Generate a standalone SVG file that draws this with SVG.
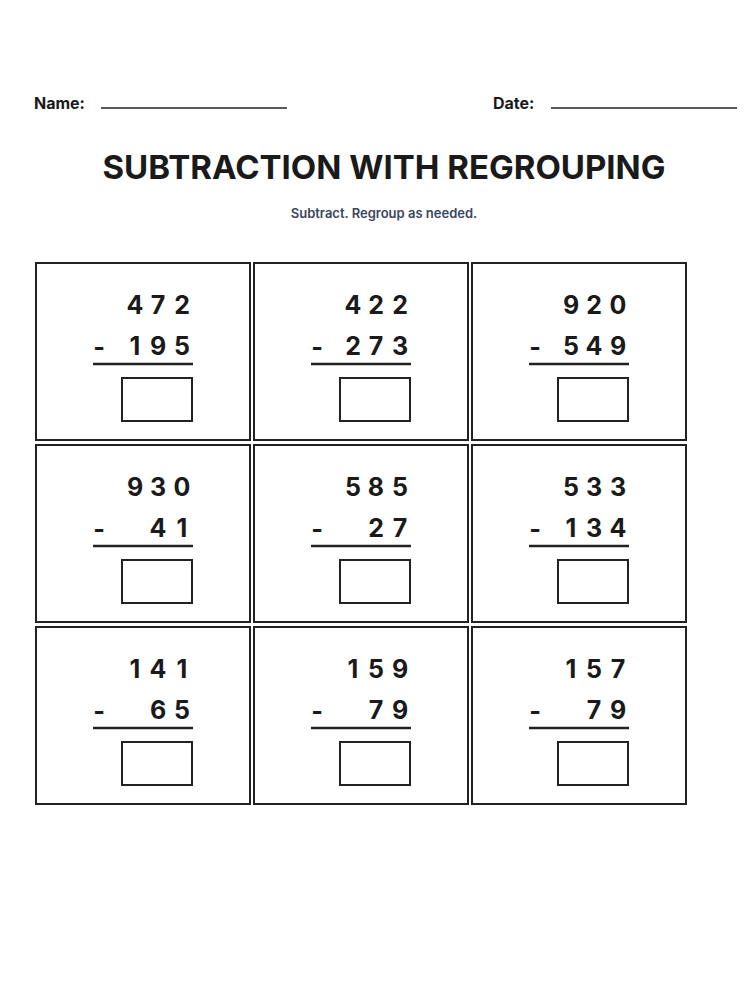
<svg xmlns="http://www.w3.org/2000/svg" width="750" height="1000" viewBox="0 0 750 1000">
<style>
.t{font-family:Inter,"Liberation Sans",sans-serif;font-weight:700;fill:#1a1a1a}
.d{font-family:Inter,"Liberation Sans",sans-serif;font-weight:700;font-size:25px;fill:#1a1a1a;text-anchor:middle}
.cell{fill:none;stroke:#222;stroke-width:2}
.ln{stroke:#222;stroke-width:2.5}
</style>
<rect width="750" height="1000" fill="#fff"/>
<g id="header">
<text class="t" x="34" y="109" font-size="16">Name:</text>
<line x1="101" y1="108" x2="287" y2="108" stroke="#222" stroke-width="1.5"/>
<text class="t" x="493" y="109" font-size="16">Date:</text>
<line x1="551" y1="108" x2="737" y2="108" stroke="#222" stroke-width="1.5"/>
<text class="t" x="384" y="179" font-size="33" text-anchor="middle">SUBTRACTION WITH REGROUPING</text>
<text x="384" y="218" font-size="13" font-weight="600" font-family="Inter,'Liberation Sans',sans-serif" fill="#3a4660" text-anchor="middle">Subtract. Regroup as needed.</text>
</g>
<defs>
<g id="frame">
<rect class="cell" x="0" y="0" width="214" height="177"/>
<text class="d" x="63" y="93">-</text>
<line class="ln" x1="57" y1="101" x2="157" y2="101"/>
<rect class="cell" x="86" y="115" width="70" height="43"/>
</g>
</defs>
<g id="p1" transform="translate(36,263)"><use href="#frame"/><text class="d" x="99" y="51">4</text><text class="d" x="122" y="51">7</text><text class="d" x="146" y="51">2</text><text class="d" x="99" y="92">1</text><text class="d" x="122" y="92">9</text><text class="d" x="146" y="92">5</text></g>
<g id="p2" transform="translate(254,263)"><use href="#frame"/><text class="d" x="99" y="51">4</text><text class="d" x="122" y="51">2</text><text class="d" x="146" y="51">2</text><text class="d" x="99" y="92">2</text><text class="d" x="122" y="92">7</text><text class="d" x="146" y="92">3</text></g>
<g id="p3" transform="translate(472,263)"><use href="#frame"/><text class="d" x="99" y="51">9</text><text class="d" x="122" y="51">2</text><text class="d" x="146" y="51">0</text><text class="d" x="99" y="92">5</text><text class="d" x="122" y="92">4</text><text class="d" x="146" y="92">9</text></g>
<g id="p4" transform="translate(36,445)"><use href="#frame"/><text class="d" x="99" y="51">9</text><text class="d" x="122" y="51">3</text><text class="d" x="146" y="51">0</text><text class="d" x="122" y="92">4</text><text class="d" x="146" y="92">1</text></g>
<g id="p5" transform="translate(254,445)"><use href="#frame"/><text class="d" x="99" y="51">5</text><text class="d" x="122" y="51">8</text><text class="d" x="146" y="51">5</text><text class="d" x="122" y="92">2</text><text class="d" x="146" y="92">7</text></g>
<g id="p6" transform="translate(472,445)"><use href="#frame"/><text class="d" x="99" y="51">5</text><text class="d" x="122" y="51">3</text><text class="d" x="146" y="51">3</text><text class="d" x="99" y="92">1</text><text class="d" x="122" y="92">3</text><text class="d" x="146" y="92">4</text></g>
<g id="p7" transform="translate(36,627)"><use href="#frame"/><text class="d" x="99" y="51">1</text><text class="d" x="122" y="51">4</text><text class="d" x="146" y="51">1</text><text class="d" x="122" y="92">6</text><text class="d" x="146" y="92">5</text></g>
<g id="p8" transform="translate(254,627)"><use href="#frame"/><text class="d" x="99" y="51">1</text><text class="d" x="122" y="51">5</text><text class="d" x="146" y="51">9</text><text class="d" x="122" y="92">7</text><text class="d" x="146" y="92">9</text></g>
<g id="p9" transform="translate(472,627)"><use href="#frame"/><text class="d" x="99" y="51">1</text><text class="d" x="122" y="51">5</text><text class="d" x="146" y="51">7</text><text class="d" x="122" y="92">7</text><text class="d" x="146" y="92">9</text></g>
<g id="connectors"/>
</svg>
